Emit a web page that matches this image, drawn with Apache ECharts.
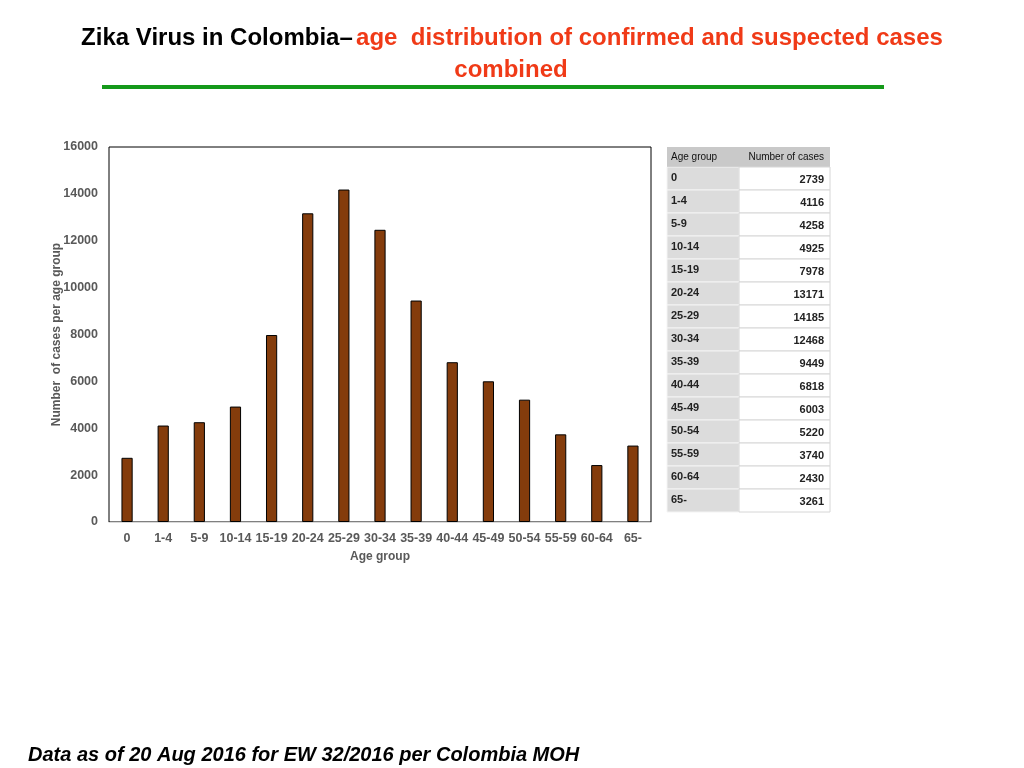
<!DOCTYPE html>
<html>
<head>
<meta charset="utf-8">
<script src="https://cdn.jsdelivr.net/npm/echarts@6/dist/echarts.min.js"></script>
<style>
  html, body { margin: 0; padding: 0; background: #fff; }
  #main { width: 1024px; height: 768px; }
</style>
</head>
<body>
<div id="main"></div>
<script>
  // age groups and case counts (Colombia MOH, EW 32/2016)
  var ageGroups = ['0', '1-4', '5-9', '10-14', '15-19', '20-24', '25-29', '30-34',
    '35-39', '40-44', '45-49', '50-54', '55-59', '60-64', '65-'];
  var cases = [2739, 4116, 4258, 4925, 7978, 13171, 14185, 12468,
    9449, 6818, 6003, 5220, 3740, 2430, 3261];
  var yTicks = [0, 2000, 4000, 6000, 8000, 10000, 12000, 14000, 16000];
  var tableHeader = ['Age group', 'Number of cases'];

  var chart = echarts.init(document.getElementById('main'), null, { renderer: 'canvas' });

  var FONT = "'Liberation Sans', Arial, Helvetica, sans-serif";
  var LABEL_GREY = '#595959';

  // table drawn as graphic elements beside the chart
  function buildTable() {
    var x0 = 667, xMid = 739, x1 = 830;
    var top = 147, headH = 20, rowH = 23;
    var els = [];

    els.push({ type: 'rect', shape: { x: x0, y: top, width: x1 - x0, height: headH },
      style: { fill: '#c9c9c9' } });
    els.push({ type: 'line', shape: { x1: x0, y1: top + headH, x2: xMid, y2: top + headH },
      style: { stroke: '#8c8c8c', lineWidth: 1 } });
    els.push({ type: 'text', x: x0 + 4, y: top + headH / 2,
      style: { text: tableHeader[0], font: '10px ' + FONT, fill: '#111', verticalAlign: 'middle' } });
    els.push({ type: 'text', x: x1 - 6, y: top + headH / 2,
      style: { text: tableHeader[1], font: '10px ' + FONT, fill: '#111', verticalAlign: 'middle', align: 'right' } });

    ageGroups.forEach(function (g, i) {
      var y = top + headH + i * rowH;
      els.push({ type: 'rect', shape: { x: x0, y: y, width: xMid - x0, height: rowH },
        style: { fill: '#dcdcdc', stroke: '#f4f4f4', lineWidth: 1 } });
      els.push({ type: 'rect', shape: { x: xMid, y: y, width: x1 - xMid, height: rowH },
        style: { fill: '#ffffff', stroke: '#d6d6d6', lineWidth: 1 } });
      els.push({ type: 'text', x: x0 + 4, y: y + 11,
        style: { text: g, font: 'bold 11px ' + FONT, fill: '#222', verticalAlign: 'middle' } });
      els.push({ type: 'text', x: x1 - 6, y: y + 13,
        style: { text: String(cases[i]), font: 'bold 11px ' + FONT, fill: '#222',
          verticalAlign: 'middle', align: 'right' } });
    });
    return els;
  }

  var graphics = [
    { type: 'text', x: 512, y: 38,
      style: {
        text: '{k|Zika Virus in Colombia–} {r|age  distribution of confirmed and suspected cases}',
        align: 'center', verticalAlign: 'middle',
        rich: {
          k: { font: 'bold 24px ' + FONT, fill: '#000' },
          r: { font: 'bold 24px ' + FONT, fill: '#f03a17' }
        }
      } },
    { type: 'text', x: 511, y: 70,
      style: { text: 'combined', font: 'bold 24px ' + FONT, fill: '#f03a17',
        align: 'center', verticalAlign: 'middle' } },
    { type: 'line', shape: { x1: 102, y1: 87, x2: 884, y2: 87 },
      style: { stroke: '#15991a', lineWidth: 4 } },
    { type: 'text', x: 28, y: 755,
      style: { text: 'Data as of 20 Aug 2016 for EW 32/2016 per Colombia MOH',
        font: 'italic bold 20px ' + FONT, fill: '#000', verticalAlign: 'middle' } }
  ].concat(buildTable());

  chart.setOption({
    backgroundColor: '#fff',
    animation: false,
    grid: {
      left: 109, top: 147, width: 542, height: 375,
      show: true, borderColor: '#000', borderWidth: 1, backgroundColor: 'transparent'
    },
    xAxis: {
      type: 'category',
      data: ageGroups,
      name: 'Age group',
      nameLocation: 'middle',
      nameGap: 29,
      nameMoveOverlap: false,
      nameTextStyle: { fontFamily: FONT, fontWeight: 'bold', fontSize: 12, color: LABEL_GREY },
      axisLine: { lineStyle: { color: '#d9d9d9', width: 1 } },
      axisTick: { show: false },
      axisLabel: { fontFamily: FONT, fontWeight: 'bold', fontSize: 12.5, color: LABEL_GREY,
        margin: 10, interval: 0 }
    },
    yAxis: {
      type: 'value',
      min: yTicks[0],
      max: yTicks[yTicks.length - 1],
      interval: yTicks[1] - yTicks[0],
      name: 'Number  of cases per age group',
      nameLocation: 'middle',
      nameGap: 46,
      nameMoveOverlap: false,
      nameTextStyle: { fontFamily: FONT, fontWeight: 'bold', fontSize: 12, color: LABEL_GREY },
      axisLine: { show: false },
      axisTick: { show: false },
      splitLine: { show: false },
      axisLabel: { fontFamily: FONT, fontWeight: 'bold', fontSize: 12.5, color: LABEL_GREY, margin: 11,
        formatter: function (v) { return String(v); } }
    },
    series: [{
      type: 'bar',
      data: cases,
      barWidth: '31%',
      itemStyle: { color: '#843c0c', borderColor: '#000', borderWidth: 1 }
    }],
    graphic: graphics
  });
</script>
</body>
</html>
